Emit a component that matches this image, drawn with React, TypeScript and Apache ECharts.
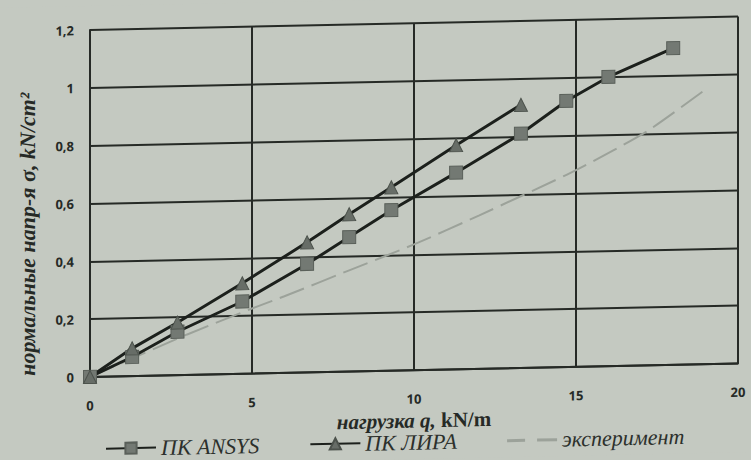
import React, { useEffect, useRef } from "react";
import * as echarts from "echarts";

// Load q (kN/m) and normal stress σ (kN/cm²) for each method
const loadAnsys = [0, 1.3, 2.7, 4.7, 6.7, 8.0, 9.3, 11.3, 13.3, 14.7, 16.0, 18.0];
const stressAnsys = [0, 0.066, 0.15, 0.25, 0.375, 0.465, 0.555, 0.68, 0.81, 0.92, 1.0, 1.095];

const loadLira = [0, 1.3, 2.7, 4.7, 6.7, 8.0, 9.3, 11.3, 13.3];
const stressLira = [0, 0.096, 0.182, 0.313, 0.45, 0.544, 0.634, 0.775, 0.91];

const loadExp = [0, 3, 5, 6, 8, 10, 12, 15, 17.2, 19];
const stressExp = [0, 0.14, 0.225, 0.265, 0.35, 0.435, 0.53, 0.68, 0.81, 0.95];

const seriesNames = ["ПК ANSYS", "ПК ЛИРА", "эксперимент"];
const xTitle = "нагрузка q, ";
const xUnit = "kN/m";
const yTitle = "нормальные напр-я σ, kN/cm²";

const zip = (xs: number[], ys: number[]) => xs.map((x, i) => [x, ys[i]]);

const INK = "#262a26";
const BG = "#c4c9c1";
const EXP = "#9ca29a";

export default function App() {
  const ref = useRef<HTMLDivElement>(null);

  useEffect(() => {
    if (!ref.current) return;
    const chart = echarts.init(ref.current, undefined, { renderer: "svg" });
    chart.setOption({
      animation: false,
      backgroundColor: BG,
      grid: { left: 90, right: 13, top: 24, bottom: 89 },
      xAxis: {
        type: "value",
        min: 0,
        max: 20,
        interval: 5,
        name: "{i|" + xTitle + "}{b|" + xUnit + "}",
        nameLocation: "middle",
        nameGap: 30,
        nameTextStyle: {
          rich: {
            i: { fontFamily: "Liberation Serif", fontStyle: "italic", fontWeight: "bold", fontSize: 21, color: INK },
            b: { fontFamily: "Liberation Serif", fontWeight: "bold", fontSize: 21, color: INK },
          },
        },
        axisLine: { show: true, lineStyle: { color: INK, width: 2 } },
        axisTick: { show: false },
        axisLabel: { margin: 22, color: INK, fontFamily: "Open Sans", fontWeight: "bold", fontSize: 13 },
        splitLine: { show: true, lineStyle: { color: INK, width: 2 } },
      },
      yAxis: {
        type: "value",
        min: 0,
        max: 1.2,
        interval: 0.2,
        axisLine: { show: true, lineStyle: { color: INK, width: 2 } },
        axisTick: { show: false },
        axisLabel: {
          margin: 16,
          color: INK,
          fontFamily: "Open Sans",
          fontWeight: "bold",
          fontSize: 13,
          formatter: (v: number) => String(+v.toFixed(1)).replace(".", ","),
        },
        splitLine: { show: true, lineStyle: { color: INK, width: 2 } },
      },
      legend: {
        left: 100,
        top: 427,
        itemGap: 50,
        itemWidth: 50,
        itemHeight: 14,
        textStyle: { fontFamily: "Liberation Serif", fontStyle: "italic", fontSize: 22, color: "#2c302c" },
        data: [
          { name: seriesNames[0] },
          { name: seriesNames[1] },
          {
            name: seriesNames[2],
            icon: "path://M0,0L0.1,0ZM0,6H18V9H0ZM30,6H50V9H30ZM50,14L49.9,14Z",
            itemStyle: { color: EXP },
          },
        ],
      },
      graphic: [
        {
          type: "text",
          x: 28,
          y: 227,
          rotation: Math.PI / 2,
          style: {
            text: yTitle,
            align: "center",
            verticalAlign: "middle",
            font: "italic bold 22px 'Liberation Serif'",
            fill: INK,
          },
        },
      ],
      series: [
        {
          name: seriesNames[0],
          type: "line",
          data: zip(loadAnsys, stressAnsys),
          symbol: "rect",
          symbolSize: 13,
          lineStyle: { color: "#1c201c", width: 3 },
          itemStyle: { color: "#737973", borderColor: "#5a605a", borderWidth: 1 },
          z: 3,
        },
        {
          name: seriesNames[1],
          type: "line",
          data: zip(loadLira, stressLira),
          symbol: "triangle",
          symbolSize: 13,
          lineStyle: { color: "#1c201c", width: 3 },
          itemStyle: { color: "#676d67", borderColor: "#4c524c", borderWidth: 1 },
          z: 3,
        },
        {
          name: seriesNames[2],
          type: "line",
          data: zip(loadExp, stressExp),
          symbol: "none",
          showSymbol: false,
          smooth: 0.2,
          lineStyle: { color: EXP, width: 2, type: [26, 8] },
          itemStyle: { color: EXP },
          z: 2,
        },
      ],
    });
    return () => chart.dispose();
  }, []);

  return (
    <div
      style={{
        position: "fixed",
        left: 0,
        top: 0,
        width: 751,
        height: 460,
        overflow: "hidden",
        background: BG,
      }}
    >
      <div
        ref={ref}
        style={{ width: 751, height: 460, transform: "skewY(-1.2deg)", transformOrigin: "375px 230px" }}
      />
    </div>
  );
}
